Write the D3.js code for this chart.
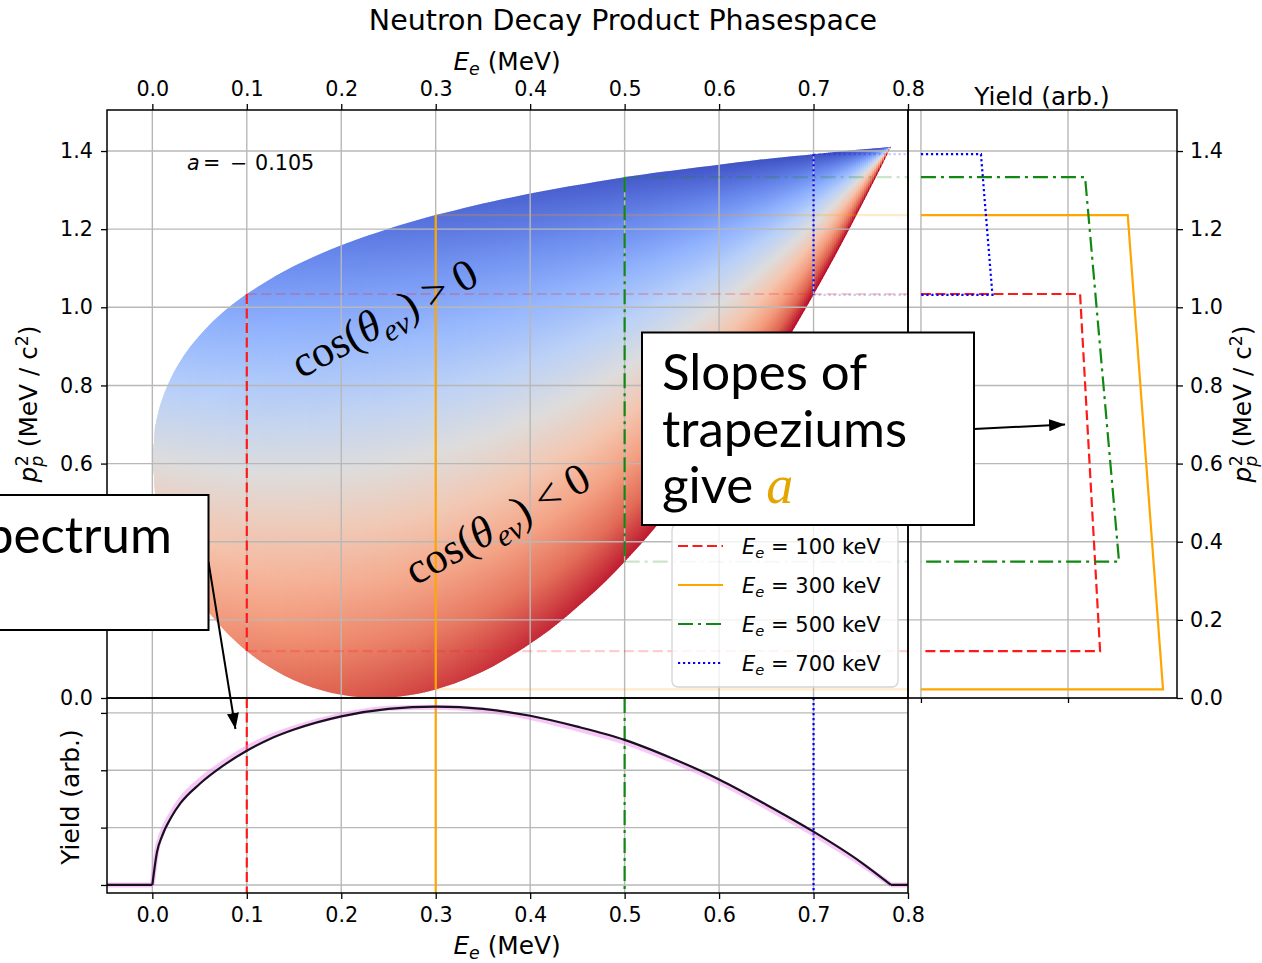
<!DOCTYPE html>
<html>
<head>
<meta charset="utf-8">
<title>Neutron Decay Product Phasespace</title>
<script src="https://cdn.jsdelivr.net/npm/d3@7/dist/d3.min.js"></script>
<style>
  body { margin: 0; background: #fff; }
  svg { display: block; }
  text { font-family: "DejaVu Sans", sans-serif; fill: #000; }
  .tick text { font-size: 20.7px; }
  .tick line { stroke: #000; stroke-width: 1.3; }
  .lbl { font-size: 24.8px; }
  .callout { font-family: "Lato", sans-serif; font-size: 51px; }
  .cosl { font-family: "Liberation Serif", serif; font-size: 44px; }
</style>
</head>
<body>
<svg id="fig" width="1262" height="963"></svg>
<script>
// ---------- data ----------
// phase space boundary: p_p^2 range for each electron kinetic energy
var phaseE = [0, 0.0025, 0.005, 0.0075, 0.01, 0.02, 0.03, 0.04, 0.05, 0.06, 0.07, 0.08, 0.09, 0.10,
  0.12, 0.14, 0.16, 0.18, 0.20, 0.22, 0.24, 0.26, 0.28, 0.30, 0.32, 0.34, 0.36, 0.38, 0.40,
  0.42, 0.44, 0.46, 0.48, 0.50, 0.52, 0.54, 0.56, 0.58, 0.60, 0.62, 0.64, 0.66, 0.68, 0.70,
  0.72, 0.74, 0.76, 0.78, 0.782];
var phaseUpper = [0.612, 0.689, 0.720, 0.744, 0.763, 0.821, 0.864, 0.899, 0.928, 0.954, 0.977, 0.998, 1.017, 1.034,
  1.065, 1.093, 1.117, 1.139, 1.159, 1.177, 1.193, 1.209, 1.223, 1.236, 1.248, 1.260, 1.271, 1.281, 1.291,
  1.300, 1.309, 1.317, 1.325, 1.333, 1.340, 1.347, 1.353, 1.359, 1.365, 1.371, 1.377, 1.382, 1.387, 1.392,
  1.397, 1.402, 1.406, 1.410, 1.411];
var phaseLower = [0.612, 0.531, 0.498, 0.471, 0.449, 0.381, 0.330, 0.287, 0.250, 0.218, 0.190, 0.164, 0.141, 0.120,
  0.085, 0.057, 0.035, 0.019, 0.008, 0.002, 0.000, 0.003, 0.010, 0.022, 0.037, 0.057, 0.080, 0.108, 0.139,
  0.173, 0.212, 0.254, 0.299, 0.349, 0.401, 0.458, 0.517, 0.581, 0.647, 0.717, 0.791, 0.868, 0.948, 1.032,
  1.119, 1.210, 1.304, 1.401, 1.411];
// electron velocity (v/c): how far the colour runs from neutral in each column
var phaseBeta = [0, 0.099, 0.139, 0.170, 0.195, 0.272, 0.328, 0.374, 0.413, 0.446, 0.476, 0.502, 0.526, 0.548,
  0.587, 0.620, 0.648, 0.673, 0.695, 0.715, 0.733, 0.749, 0.763, 0.777, 0.789, 0.800, 0.810, 0.819, 0.828,
  0.836, 0.843, 0.850, 0.857, 0.863, 0.869, 0.874, 0.879, 0.884, 0.888, 0.892, 0.896, 0.900, 0.903, 0.907,
  0.910, 0.913, 0.916, 0.918, 0.919];

// electron spectrum (bottom panel)
var spectrumE = [-0.048, 0, 0.005, 0.01, 0.02, 0.03, 0.05, 0.075, 0.1, 0.125, 0.15, 0.2, 0.25, 0.3,
  0.35, 0.4, 0.45, 0.5, 0.55, 0.6, 0.65, 0.7, 0.75, 0.782, 0.8];
var spectrumYield = [0, 0, 0.58, 0.84, 1.18, 1.43, 1.76, 2.08, 2.34, 2.55, 2.71, 2.94, 3.07, 3.11,
  3.07, 2.95, 2.76, 2.53, 2.21, 1.84, 1.40, 0.93, 0.40, 0, 0];
var spectrumYieldAlt = [0, 0, 0.63, 0.90, 1.24, 1.49, 1.82, 2.13, 2.39, 2.59, 2.74, 2.96, 3.08, 3.10,
  3.05, 2.92, 2.72, 2.49, 2.17, 1.80, 1.36, 0.89, 0.37, 0, 0];

// slices at fixed E_e and their trapezium yields (right panel)
var cutEnergy = [0.1, 0.3, 0.5, 0.7];
var cutKeV = ["100", "300", "500", "700"];
var trapezTopYield = [1.082, 1.406, 1.116, 0.408];
var trapezBottomYield = [1.218, 1.646, 1.347, 0.486];

var xTicks = [0, 0.1, 0.2, 0.3, 0.4, 0.5, 0.6, 0.7, 0.8];
var yTicks = [0, 0.2, 0.4, 0.6, 0.8, 1.0, 1.2, 1.4];
var yieldTicks = [0, 1, 2, 3];
var sideYieldTicks = [0, 1];
var asymmetryA = -0.105;

// ---------- styles ----------
var cutColor = ["#ff1a1a", "#ffa500", "#118811", "#0000ff"];
var cutDash = ["10,4.5", null, "15,5,3,5", "2.2,2.8"];
var coolwarmColors = ["#3b4cc0", "#6282ea", "#8db0fe", "#b8d0f9", "#dddcdc",
  "#f5c4ac", "#f49a7b", "#de604d", "#b40426"];

var svg = d3.select("#fig");
var defs = svg.append("defs");

var x = d3.scaleLinear().domain([-0.048, 0.8]).range([107, 908]);
var y = d3.scaleLinear().domain([0, 1.505]).range([698, 110]);
var yB = d3.scaleLinear().domain([-0.14, 3.26]).range([893, 698]);
var xR = d3.scaleLinear().domain([-0.088, 1.741]).range([908, 1177]);
var coolwarm = d3.scaleLinear()
  .domain(coolwarmColors.map(function(c, k){ return k / (coolwarmColors.length - 1); }))
  .range(coolwarmColors).interpolate(d3.interpolateRgb);

// ---------- phase space colour map ----------
var betaMax = d3.max(phaseBeta);
var upperAt = d3.scaleLinear().domain(phaseE).range(phaseUpper);
var lowerAt = d3.scaleLinear().domain(phaseE).range(phaseLower);
var betaAt = d3.scaleLinear().domain(phaseE).range(phaseBeta);

var phase = phaseE.map(function(e, i){ return {e: e, hi: phaseUpper[i], lo: phaseLower[i]}; });
var area = d3.area()
  .x(function(d){ return x(d.e); })
  .y0(function(d){ return y(d.lo); })
  .y1(function(d){ return y(d.hi); })
  .curve(d3.curveMonotoneX);
defs.append("clipPath").attr("id", "phaseClip").append("path").attr("d", area(phase));

// one 2px column per bin, like a pcolormesh; colour runs with cos(theta) from top to bottom
var region = svg.append("g").attr("clip-path", "url(#phaseClip)");
var eMax = phaseE[phaseE.length - 1];
d3.range(x(0), x(eMax), 2).forEach(function(cx, j){
  var e = Math.min(x.invert(cx + 1), eMax);
  var U = upperAt(e), L = lowerAt(e), b = betaAt(e) / betaMax;
  var y1 = y(U), y2 = y(L);
  if (y2 - y1 < 0.5) y2 = y1 + 0.5;
  var g = defs.append("linearGradient").attr("id", "pg" + j)
    .attr("gradientUnits", "userSpaceOnUse")
    .attr("x1", 0).attr("x2", 0).attr("y1", y1).attr("y2", y2);
  d3.range(9).forEach(function(k){
    var f = k / 8;   // 0 -> cos(theta)=+1 (top), 1 -> cos(theta)=-1 (bottom)
    g.append("stop").attr("offset", f).attr("stop-color", coolwarm(0.5 - 0.5 * b * (1 - 2 * f)));
  });
  region.append("rect")
    .attr("x", cx - 0.3).attr("width", 2.6)
    .attr("y", y1 - 2).attr("height", y2 - y1 + 4)
    .attr("fill", "url(#pg" + j + ")");
});

// ---------- grids ----------
var grid = svg.append("g").attr("stroke", "#b8b8b8").attr("stroke-width", 1.4);
xTicks.forEach(function(t){
  grid.append("line").attr("x1", x(t)).attr("x2", x(t)).attr("y1", 110).attr("y2", 698);
  grid.append("line").attr("x1", x(t)).attr("x2", x(t)).attr("y1", 698).attr("y2", 893);
});
yTicks.forEach(function(t){
  grid.append("line").attr("x1", 107).attr("x2", 908).attr("y1", y(t)).attr("y2", y(t));
  grid.append("line").attr("x1", 908).attr("x2", 1177).attr("y1", y(t)).attr("y2", y(t));
});
yieldTicks.forEach(function(t){
  grid.append("line").attr("x1", 107).attr("x2", 908).attr("y1", yB(t)).attr("y2", yB(t));
});
sideYieldTicks.forEach(function(t){
  grid.append("line").attr("x1", xR(t)).attr("x2", xR(t)).attr("y1", 110).attr("y2", 698);
});

// ---------- slices ----------
var line = d3.line().x(function(d){ return d[0]; }).y(function(d){ return d[1]; });
var slices = svg.append("g").attr("fill", "none");
cutEnergy.forEach(function(e, i){
  var k = phaseE.indexOf(e);
  var U = phaseUpper[k], L = phaseLower[k];
  function styled(p){
    p.attr("stroke", cutColor[i]).attr("stroke-width", 2.2);
    if (cutDash[i]) p.attr("stroke-dasharray", cutDash[i]);
    return p;
  }
  // faint guides across the main panel
  styled(slices.append("path").attr("opacity", 0.22)
    .attr("d", line([[x(e), y(U)], [x(0.8), y(U)]])));
  styled(slices.append("path").attr("opacity", 0.22)
    .attr("d", line([[x(e), y(L)], [x(0.8), y(L)]])));
  // slice through the phase space
  styled(slices.append("path").attr("d", line([[x(e), y(U)], [x(e), y(L)]])));
  // slice through the spectrum panel
  styled(slices.append("path").attr("d", line([[x(e), 698], [x(e), 893]])));
  // trapezium in the side panel
  styled(slices.append("path").attr("d", line([
    [xR(0), y(U)], [xR(trapezTopYield[i]), y(U)], [xR(trapezBottomYield[i]), y(L)], [xR(0), y(L)]
  ])));
});

// ---------- spectrum ----------
var bottom = svg.append("g").attr("fill", "none");
function spectrumPath(vals){
  var pts = spectrumE.map(function(e, i){ return [x(e), yB(vals[i])]; });
  var curve = d3.line().curve(d3.curveMonotoneX);
  return d3.line()(pts.slice(0, 2)) + curve(pts.slice(1, pts.length - 1)) + d3.line()(pts.slice(pts.length - 2));
}
bottom.append("path").attr("d", spectrumPath(spectrumYieldAlt))
  .attr("stroke", "#ee82ee").attr("stroke-opacity", 0.45).attr("stroke-width", 5);
bottom.append("path").attr("d", spectrumPath(spectrumYield))
  .attr("stroke", "#1a1020").attr("stroke-width", 2.2);

// ---------- legend ----------
var leg = svg.append("g");
leg.append("rect").attr("x", 672).attr("y", 524).attr("width", 226).attr("height", 163).attr("rx", 6)
  .attr("fill", "#fff").attr("fill-opacity", 0.8).attr("stroke", "#d4d4d4").attr("stroke-width", 1.3);
cutEnergy.forEach(function(e, i){
  var ly = 546 + 39 * i;
  var p = leg.append("line").attr("x1", 678).attr("x2", 723).attr("y1", ly).attr("y2", ly)
    .attr("stroke", cutColor[i]).attr("stroke-width", 2.2);
  if (cutDash[i]) p.attr("stroke-dasharray", cutDash[i]);
  var t = leg.append("text").attr("x", 742).attr("y", ly + 7.5).style("font-size", "21px");
  t.append("tspan").attr("font-style", "italic").text("E");
  t.append("tspan").attr("font-style", "italic").style("font-size", "14.7px").attr("dy", 4).text("e");
  t.append("tspan").attr("dy", -4).text(" = " + cutKeV[i] + " keV");
});

// ---------- axes ----------
function tidy(g){ g.select(".domain").remove(); g.selectAll(".tick text").attr("fill", "#000"); }
svg.append("g").attr("transform", "translate(0,110)")
  .call(d3.axisTop(x).tickValues(xTicks).tickFormat(d3.format(".1f")).tickSize(6).tickPadding(8)).call(tidy);
svg.append("g").attr("transform", "translate(0,893)")
  .call(d3.axisBottom(x).tickValues(xTicks).tickFormat(d3.format(".1f")).tickSize(6).tickPadding(8)).call(tidy);
svg.append("g").attr("transform", "translate(107,0)")
  .call(d3.axisLeft(y).tickValues(yTicks).tickFormat(d3.format(".1f")).tickSize(6).tickPadding(8)).call(tidy);
svg.append("g").attr("transform", "translate(107,0)")
  .call(d3.axisLeft(yB).tickValues(yieldTicks).tickFormat("").tickSize(6)).call(tidy);
svg.append("g").attr("transform", "translate(1177,0)")
  .call(d3.axisRight(y).tickValues(yTicks).tickFormat(d3.format(".1f")).tickSize(6).tickPadding(7)).call(tidy);
svg.append("g").attr("transform", "translate(0,698)")
  .call(d3.axisBottom(xR).tickValues(sideYieldTicks).tickFormat("").tickSize(5)).call(tidy);

// spines
var spines = svg.append("g").attr("fill", "none").attr("stroke", "#000").attr("stroke-width", 1.5);
spines.append("rect").attr("x", 107).attr("y", 110).attr("width", 801).attr("height", 588);
spines.append("rect").attr("x", 107).attr("y", 698).attr("width", 801).attr("height", 195);
spines.append("rect").attr("x", 908).attr("y", 110).attr("width", 269).attr("height", 588);

// ---------- labels ----------
svg.append("text").attr("x", 623).attr("y", 30).attr("text-anchor", "middle")
  .style("font-size", "28.5px").text("Neutron Decay Product Phasespace");

function eLabel(cx, cy){
  var t = svg.append("text").attr("class", "lbl").attr("x", cx).attr("y", cy).attr("text-anchor", "middle");
  t.append("tspan").attr("font-style", "italic").text("E");
  t.append("tspan").attr("font-style", "italic").style("font-size", "17.4px").attr("dy", 5).text("e");
  t.append("tspan").attr("dy", -5).text(" (MeV)");
}
eLabel(507, 70);
eLabel(507, 954);

function ppLabel(tx, ty){
  var t = svg.append("text").attr("class", "lbl").attr("text-anchor", "middle")
    .attr("transform", "translate(" + tx + "," + ty + ") rotate(-90)");
  t.append("tspan").attr("font-style", "italic").text("p");
  t.append("tspan").attr("font-style", "italic").style("font-size", "17.4px").attr("dy", 6).text("p");
  t.append("tspan").style("font-size", "17.4px").attr("dx", -10.5).attr("dy", -15).text("2");
  t.append("tspan").attr("dy", 9).text(" (MeV / c");
  t.append("tspan").style("font-size", "17.4px").attr("dy", -9).text("2");
  t.append("tspan").attr("dy", 9).text(")");
}
ppLabel(37, 404);
ppLabel(1251, 404);

svg.append("text").attr("class", "lbl").attr("text-anchor", "middle")
  .attr("transform", "translate(79,797) rotate(-90)").text("Yield (arb.)");
svg.append("text").attr("class", "lbl").attr("x", 1042).attr("y", 105).attr("text-anchor", "middle")
  .text("Yield (arb.)");

var aT = svg.append("text").attr("y", 170).style("font-size", "20.7px");
aT.append("tspan").attr("x", 187).attr("font-style", "italic").text("a");
aT.append("tspan").attr("x", 203).text("=");
aT.append("tspan").attr("x", 230).text(asymmetryA < 0 ? "\u2212" : "+");
aT.append("tspan").attr("x", 255).text(d3.format(".3f")(Math.abs(asymmetryA)));

function cosLabel(tx, ty, ang, rel){
  var t = svg.append("text").attr("class", "cosl")
    .attr("transform", "translate(" + tx + "," + ty + ") rotate(" + ang + ")");
  t.append("tspan").text("cos(");
  t.append("tspan").attr("font-style", "italic").text("\u03b8");
  t.append("tspan").attr("font-style", "italic").style("font-size", "31px").attr("dy", 9).text("ev");
  t.append("tspan").attr("dy", -9).text(")");
  t.append("tspan").attr("dx", 10).text(rel);
  t.append("tspan").attr("dx", 10).text("0");
}
cosLabel(301, 379, -28, ">");
cosLabel(415, 586, -29, "<");

// ---------- callouts ----------
defs.append("marker").attr("id", "arrowHead").attr("viewBox", "0 0 16 12")
  .attr("markerUnits", "userSpaceOnUse").attr("markerWidth", 16).attr("markerHeight", 12)
  .attr("refX", 16).attr("refY", 6).attr("orient", "auto")
  .append("path").attr("d", "M0,0L16,6L0,12Z").attr("fill", "#000");

var notes = svg.append("g");
notes.append("line").attr("x1", 974).attr("y1", 429).attr("x2", xR(0.98)).attr("y2", y(0.70))
  .attr("stroke", "#000").attr("stroke-width", 2).attr("marker-end", "url(#arrowHead)");
notes.append("line").attr("x1", 208.5).attr("y1", 562).attr("x2", x(0.088)).attr("y2", yB(2.72))
  .attr("stroke", "#000").attr("stroke-width", 2).attr("marker-end", "url(#arrowHead)");

notes.append("rect").attr("x", 642).attr("y", 332.5).attr("width", 332).attr("height", 192.5)
  .attr("fill", "#fff").attr("stroke", "#000").attr("stroke-width", 2);
notes.append("text").attr("class", "callout").attr("x", 662).attr("y", 390).text("Slopes of");
notes.append("text").attr("class", "callout").attr("x", 662).attr("y", 447).text("trapeziums");
var give = notes.append("text").attr("class", "callout").attr("x", 662).attr("y", 503);
give.append("tspan").text("give ");
give.append("tspan").style("font-family", "'Liberation Serif', serif").style("font-style", "italic")
  .style("font-size", "54px").attr("fill", "#e3a600").text("a");

notes.append("rect").attr("x", -3).attr("y", 495).attr("width", 211.5).attr("height", 135)
  .attr("fill", "#fff").attr("stroke", "#000").attr("stroke-width", 2);
notes.append("text").attr("class", "callout").attr("x", 172).attr("y", 553).attr("text-anchor", "end")
  .text("Spectrum");
</script>
</body>
</html>
